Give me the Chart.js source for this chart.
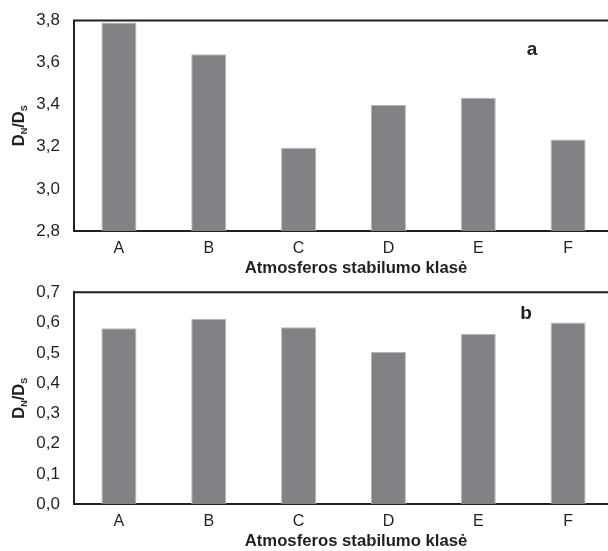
<!DOCTYPE html>
<html>
<head>
<meta charset="utf-8">
<script src="https://cdn.jsdelivr.net/npm/chart.js@4.4.1/dist/chart.umd.min.js"></script>
<style>
  html, body { margin:0; padding:0; background:#fff; overflow:hidden; width:608px; height:551px; }
  .wrap { position:absolute; left:0; width:620px; }
  #w1 { top:0; height:275px; }
  #w2 { top:275px; height:276px; }
</style>
</head>
<body>
<div class="wrap" id="w1"><canvas id="c1" width="620" height="275"></canvas></div>
<div class="wrap" id="w2"><canvas id="c2" width="620" height="276"></canvas></div>
<script>
const categories = ['A', 'B', 'C', 'D', 'E', 'F'];
const valuesA = [3.79, 3.64, 3.195, 3.40, 3.433, 3.235];
const valuesB = [0.581, 0.613, 0.585, 0.503, 0.563, 0.600];
const xTitle = 'Atmosferos stabilumo klasė';
const panelLabels = ['a', 'b'];

const TXT = '#231f20';
const FONT = "'Liberation Sans', Arial, sans-serif";

const framePlugin = {
  id: 'frame',
  afterDraw(chart, args, opts) {
    const {ctx, chartArea: a} = chart;
    ctx.save();
    ctx.strokeStyle = TXT;
    ctx.lineWidth = 2;
    ctx.beginPath();
    ctx.moveTo(a.left - 1, a.top);
    ctx.lineTo(a.right + 10, a.top);
    ctx.stroke();
    ctx.fillStyle = TXT;
    ctx.font = "bold 19px " + FONT;
    ctx.textAlign = 'center';
    ctx.textBaseline = 'middle';
    ctx.fillText(opts.letter, opts.lx, opts.ly);
    ctx.font = "bold 16.7px " + FONT;
    ctx.fillText(opts.xt, opts.xtx, opts.xty);
    ctx.translate(opts.tx, (a.top + a.bottom) / 2);
    ctx.rotate(-Math.PI / 2);
    const big = "bold 16.5px " + FONT, small = "bold 9px " + FONT;
    const parts = [['D', big, 0], ['N', small, 3], ['/D', big, 0], ['S', small, 3]];
    let w = 0;
    parts.forEach(p => { ctx.font = p[1]; w += ctx.measureText(p[0]).width; });
    let x = -w / 2;
    ctx.textAlign = 'left';
    ctx.textBaseline = 'alphabetic';
    parts.forEach(p => { ctx.font = p[1]; ctx.fillText(p[0], x, 5.5 + p[2]); x += ctx.measureText(p[0]).width; });
    ctx.restore();
  }
};

function makeChart(id, values, min, max, step, letter, lx, ly, padTop, xh, xty) {
  return new Chart(document.getElementById(id), {
    type: 'bar',
    data: {
      labels: categories,
      datasets: [{
        data: values,
        backgroundColor: '#808285',
        borderColor: '#b4b6b8',
        borderWidth: 1,
        borderSkipped: 'bottom',
        barPercentage: 0.39,
        categoryPercentage: 1.0
      }]
    },
    options: {
      responsive: false,
      animation: false,
      devicePixelRatio: 1,
      layout: { padding: { top: padTop, right: 7, left: 0, bottom: 0 } },
      plugins: {
        legend: { display: false },
        tooltip: { enabled: false },
        frame: { letter: letter, lx: lx, ly: ly, tx: 18, xt: xTitle, xtx: 356, xty: xty }
      },
      scales: {
        x: {
          grid: { display: false, drawTicks: false },
          border: { display: true, color: TXT, width: 2 },
          ticks: { color: TXT, font: { family: FONT, size: 16 }, padding: 8 },
          title: { display: false },
          afterFit(s) { s.height = xh; }
        },
        y: {
          min: min, max: max,
          grid: { display: false, drawTicks: false },
          border: { display: true, color: TXT, width: 2 },
          ticks: {
            stepSize: step, color: TXT, padding: 14,
            font: { family: FONT, size: 17 },
            callback: v => Number(v).toFixed(1).replace('.', ',')
          },
          afterFit(s) { s.width = 74; s.paddingTop = 0; s.paddingBottom = 0; }
        }
      }
    },
    plugins: [framePlugin]
  });
}

makeChart('c1', valuesA, 2.8, 3.8, 0.2, panelLabels[0], 532, 50, 20.5, 44, 268);
makeChart('c2', valuesB, 0, 0.7, 0.1, panelLabels[1], 526, 39, 17.3, 46.7, 266);
</script>
</body>
</html>
